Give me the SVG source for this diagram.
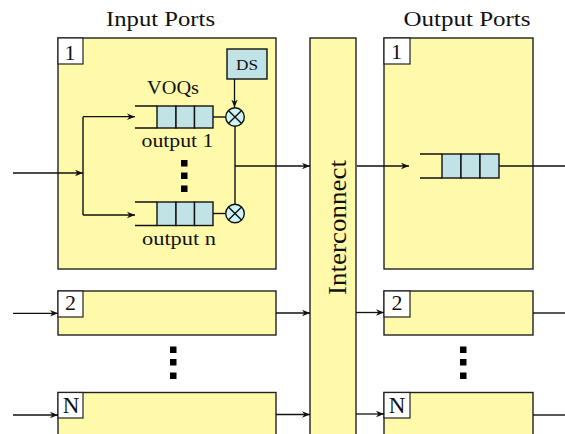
<svg xmlns="http://www.w3.org/2000/svg" width="565" height="434" viewBox="0 0 565 434">
<defs>
<marker id="arr" viewBox="0 0 10 10" refX="10" refY="5" markerWidth="8" markerHeight="8" markerUnits="userSpaceOnUse" orient="auto">
<path d="M0,1 L10,5 L0,9 L3,5 Z" fill="#111"/>
</marker>
<style>
.port{fill:#FFFAAA;stroke:#222;stroke-width:1.4}
.lbl{fill:#fff;stroke:#222;stroke-width:1.2}
.cell{fill:#C2E3E6;stroke:#111;stroke-width:1.4}
.ln{fill:none;stroke:#111;stroke-width:1.4}
.arw{fill:none;stroke:#111;stroke-width:1.3;marker-end:url(#arr)}
.dot{fill:#000}
text{font-family:"Liberation Serif","Times New Roman",serif;fill:#111}
.title{font-size:22px;text-anchor:middle}
.small{font-size:19px;text-anchor:middle}
.num{font-size:22px;text-anchor:middle}
.bign{font-size:23px;text-anchor:middle}
</style>
</defs>
<rect width="565" height="434" fill="#fff"/>

<text class="title" x="160.5" y="26" textLength="109" lengthAdjust="spacingAndGlyphs">Input Ports</text>
<text class="title" x="467" y="26" textLength="127" lengthAdjust="spacingAndGlyphs">Output Ports</text>

<g id="input1">
<rect class="port" x="58" y="38" width="218" height="231"/>
<rect class="lbl" x="58" y="38" width="25" height="26"/>
<text class="num" x="70" y="60">1</text>
<g id="ds">
<rect class="cell" x="227" y="49" width="40" height="30"/>
<text x="247" y="70" font-size="15" text-anchor="middle" textLength="22" lengthAdjust="spacingAndGlyphs">DS</text>
</g>
<text class="small" x="173" y="94" textLength="52" lengthAdjust="spacingAndGlyphs">VOQs</text>
<g id="voq1">
<path class="ln" d="M135,106 H157 M135,128 H157"/>
<rect class="cell" x="157" y="106" width="19" height="22"/>
<rect class="cell" x="176" y="106" width="18.5" height="22"/>
<rect class="cell" x="194.5" y="106" width="18.5" height="22"/>
</g>
<text class="small" x="177.5" y="146.5" textLength="72" lengthAdjust="spacingAndGlyphs">output 1</text>
<rect class="dot" x="181" y="160" width="6.5" height="6.5"/>
<rect class="dot" x="181" y="172.5" width="6.5" height="6.5"/>
<rect class="dot" x="181" y="185.5" width="6.5" height="6.5"/>
<g id="voqn">
<path class="ln" d="M135,202 H157 M135,225.5 H157"/>
<rect class="cell" x="157" y="202" width="19" height="23.5"/>
<rect class="cell" x="176" y="202" width="18.5" height="23.5"/>
<rect class="cell" x="194.5" y="202" width="18.5" height="23.5"/>
</g>
<text class="small" x="179" y="245" textLength="74" lengthAdjust="spacingAndGlyphs">output n</text>
<g id="mux1">
<circle cx="235" cy="117" r="9.3" fill="#CDF4F8" stroke="#111" stroke-width="1.4"/>
<path class="ln" d="M228.4,110.4 L241.6,123.6 M241.6,110.4 L228.4,123.6"/>
</g>
<g id="muxn">
<circle cx="235" cy="213.5" r="9.3" fill="#CDF4F8" stroke="#111" stroke-width="1.4"/>
<path class="ln" d="M228.4,206.9 L241.6,220.1 M241.6,206.9 L228.4,220.1"/>
</g>
</g>

<g id="input2">
<rect class="port" x="58" y="291" width="218" height="44"/>
<rect class="lbl" x="58" y="291" width="25" height="26"/>
<text class="num" x="70.5" y="310">2</text>
</g>
<g id="inputN">
<rect class="port" x="58" y="392.5" width="218" height="50"/>
<rect class="lbl" x="58" y="392.5" width="25" height="25.5"/>
<text class="bign" x="71" y="412.5">N</text>
</g>
<rect class="dot" x="170" y="346.5" width="6.5" height="6.5"/>
<rect class="dot" x="170" y="359" width="6.5" height="6.5"/>
<rect class="dot" x="170" y="372.5" width="6.5" height="6.5"/>

<g id="interconnect">
<rect class="port" x="310" y="38" width="46" height="410"/>
<text x="346" y="227.5" font-size="25" text-anchor="middle" transform="rotate(-90 346 227.5)" textLength="135" lengthAdjust="spacingAndGlyphs">Interconnect</text>
</g>

<g id="output1">
<rect class="port" x="384" y="38" width="149" height="231"/>
<rect class="lbl" x="384" y="38" width="26" height="26"/>
<text class="num" x="396.5" y="58.5">1</text>
<g id="oq1">
<path class="ln" d="M420,154 H442 M420,178 H442"/>
<rect class="cell" x="442" y="154" width="19" height="24"/>
<rect class="cell" x="461" y="154" width="19" height="24"/>
<rect class="cell" x="480" y="154" width="19" height="24"/>
</g>
</g>
<g id="output2">
<rect class="port" x="384" y="291" width="149" height="44"/>
<rect class="lbl" x="384" y="291" width="26" height="26"/>
<text class="num" x="397" y="310">2</text>
</g>
<g id="outputN">
<rect class="port" x="384" y="392.5" width="149" height="50"/>
<rect class="lbl" x="384" y="392.5" width="26" height="25.5"/>
<text class="bign" x="397" y="412.5">N</text>
</g>
<rect class="dot" x="460" y="346.5" width="6.5" height="6.5"/>
<rect class="dot" x="460" y="359" width="6.5" height="6.5"/>
<rect class="dot" x="460" y="372.5" width="6.5" height="6.5"/>

<g id="connectors">
<path class="arw" d="M13,173 H83"/>
<path class="ln" d="M83,116.7 V215"/>
<path class="arw" d="M83,116.7 H135"/>
<path class="arw" d="M83,215 H135"/>
<path class="ln" d="M213,117 H225.7"/>
<path class="ln" d="M213,213.5 H225.7"/>
<path class="arw" d="M234.5,79 V107.5"/>
<path class="ln" d="M235,126.3 V204.2"/>
<path class="arw" d="M235,166 H310"/>
<path class="arw" d="M357,166 H409"/>
<path class="ln" d="M499,166 H565"/>
<path class="arw" d="M13,313.3 H58"/>
<path class="arw" d="M276,313 H310"/>
<path class="arw" d="M356,312.5 H384"/>
<path class="ln" d="M533,313 H565"/>
<path class="arw" d="M13,415 H58"/>
<path class="arw" d="M276,414.5 H310"/>
<path class="arw" d="M356,414 H384"/>
<path class="ln" d="M533,415 H565"/>
</g>
</svg>
